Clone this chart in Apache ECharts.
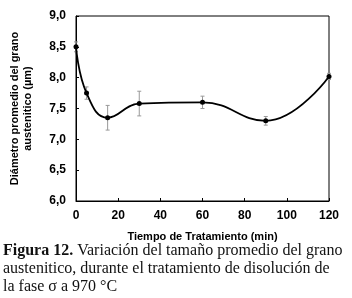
<!DOCTYPE html>
<html>
<head>
<meta charset="utf-8">
<script src="https://cdn.jsdelivr.net/npm/echarts@6/dist/echarts.min.js"></script>
<style>
  html, body { margin: 0; padding: 0; background: #fff; }
  #chart { width: 352px; height: 298px; }
</style>
</head>
<body>
<div id="chart"></div>
<script>
// tiempo (min) y diámetro promedio (µm)
const tiempos = [0, 5, 15, 30, 60, 90, 120]
const diametros = [8.5, 7.75, 7.35, 7.58, 7.6, 7.3, 8.02]
const errores = [0.08, 0.1, 0.2, 0.2, 0.1, 0.07, 0.05]
const xTicks = [0, 20, 40, 60, 80, 100, 120]
const yTicks = [6.0, 6.5, 7.0, 7.5, 8.0, 8.5, 9.0]

const chart = echarts.init(document.getElementById('chart'), null, { renderer: 'canvas' })

const font = 'Liberation Sans, Arial, sans-serif'
const serif = 'Liberation Serif, Times New Roman, serif'

const option = {
  animation: false,
  backgroundColor: '#fff',
  grid: {
    left: 72, right: 23, top: 16, bottom: 97,
    show: true, borderColor: '#000', borderWidth: 1
  },
  xAxis: {
    type: 'value',
    min: 0, max: 120, interval: 20,
    name: 'Tiempo de Tratamiento (min)',
    nameLocation: 'middle',
    nameGap: 30,
    nameTextStyle: { fontFamily: font, fontWeight: 'bold', fontSize: 11, color: '#000' },
    axisLine: { lineStyle: { color: '#000' } },
    axisTick: { inside: true, length: 3, lineStyle: { color: '#000' } },
    axisLabel: {
      fontFamily: font, fontWeight: 'bold', fontSize: 12, color: '#000', margin: 9,
      formatter: v => xTicks.includes(v) ? String(v) : ''
    },
    splitLine: { show: false }
  },
  yAxis: {
    type: 'value',
    min: 6, max: 9, interval: 0.5,
    name: 'Diámetro promedio del grano\naustenitico (µm)',
    nameLocation: 'middle',
    nameRotate: 90,
    nameGap: 42,
    nameTextStyle: { fontFamily: font, fontWeight: 'bold', fontSize: 11, color: '#000', lineHeight: 13 },
    axisLine: { lineStyle: { color: '#000' } },
    axisTick: { inside: true, length: 3, lineStyle: { color: '#000' } },
    axisLabel: {
      fontFamily: font, fontWeight: 'bold', fontSize: 12, color: '#000', margin: 10,
      formatter: v => yTicks.includes(v) ? v.toFixed(1).replace('.', ',') : ''
    },
    splitLine: { show: false }
  },
  series: [
    {
      type: 'custom',
      data: tiempos.map((t, i) => [t, diametros[i] - errores[i], diametros[i] + errores[i]]),
      renderItem: (params, api) => {
        const lo = api.coord([api.value(0), api.value(1)])
        const hi = api.coord([api.value(0), api.value(2)])
        const style = { stroke: '#999', lineWidth: 1 }
        return {
          type: 'group',
          children: [
            { type: 'line', shape: { x1: lo[0], y1: lo[1], x2: hi[0], y2: hi[1] }, style },
            { type: 'line', shape: { x1: lo[0] - 2, y1: lo[1], x2: lo[0] + 2, y2: lo[1] }, style },
            { type: 'line', shape: { x1: hi[0] - 2, y1: hi[1], x2: hi[0] + 2, y2: hi[1] }, style }
          ]
        }
      },
      z: 1
    },
    {
      type: 'line',
      data: tiempos.map((t, i) => [t, diametros[i]]),
      smooth: 0.45,
      symbol: 'circle',
      symbolSize: 5,
      itemStyle: { color: '#000' },
      lineStyle: { color: '#000', width: 1.8 },
      z: 2
    }
  ],
  graphic: [
    {
      type: 'text',
      left: 3,
      top: 243,
      style: {
        text: '{b|Figura 12.}{n| Variación del tamaño promedio del grano}\n{n|austenitico, durante el tratamiento de disolución de}\n{n|la fase σ a 970 °C}',
        fill: '#111',
        rich: {
          b: { fontFamily: serif, fontSize: 16, fontWeight: 'bold', fill: '#111', lineHeight: 18 },
          n: { fontFamily: serif, fontSize: 16, fill: '#111', lineHeight: 18 }
        }
      }
    }
  ]
}

chart.setOption(option)
</script>
</body>
</html>
